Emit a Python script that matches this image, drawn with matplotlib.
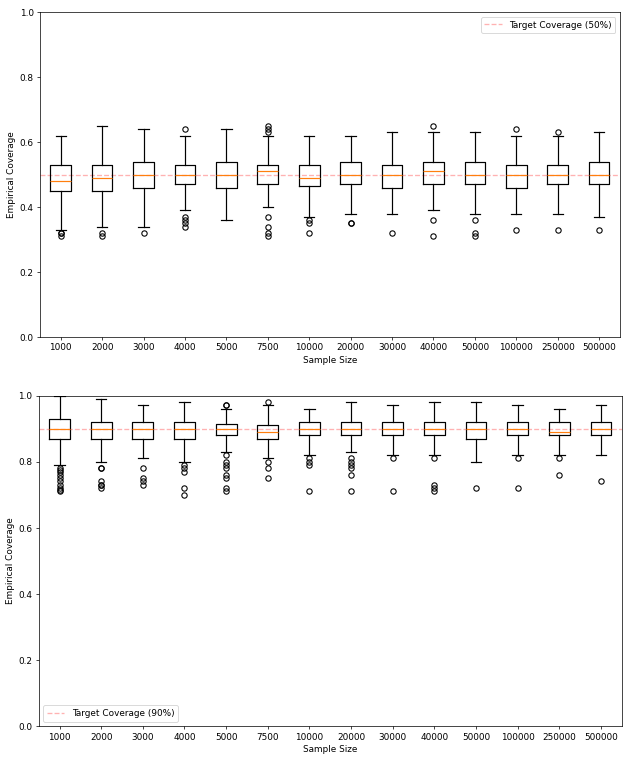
import matplotlib
matplotlib.use("Agg")
import matplotlib.pyplot as plt

sample_sizes = ["1000", "2000", "3000", "4000", "5000", "7500", "10000",
                "20000", "30000", "40000", "50000", "100000", "250000", "500000"]

# 50% panel: whisker low, q1, median, q3, whisker high, outliers
cov50_whislo = [0.33, 0.34, 0.34, 0.39, 0.36, 0.40, 0.37, 0.38, 0.38, 0.39, 0.38, 0.38, 0.38, 0.37]
cov50_q1 = [0.45, 0.45, 0.46, 0.47, 0.46, 0.47, 0.465, 0.47, 0.46, 0.47, 0.47, 0.46, 0.47, 0.47]
cov50_med = [0.48, 0.49, 0.50, 0.50, 0.50, 0.51, 0.49, 0.50, 0.50, 0.51, 0.50, 0.50, 0.50, 0.50]
cov50_q3 = [0.53, 0.53, 0.54, 0.53, 0.54, 0.53, 0.53, 0.54, 0.53, 0.54, 0.54, 0.53, 0.53, 0.54]
cov50_whishi = [0.62, 0.65, 0.64, 0.62, 0.64, 0.62, 0.62, 0.62, 0.63, 0.63, 0.63, 0.62, 0.62, 0.63]
cov50_fliers = [
    [0.32, 0.31, 0.32],
    [0.32, 0.31],
    [0.32],
    [0.64, 0.37, 0.36, 0.35, 0.34],
    [],
    [0.65, 0.64, 0.63, 0.37, 0.34, 0.32, 0.31],
    [0.36, 0.35, 0.32],
    [0.35, 0.35],
    [0.32],
    [0.65, 0.36, 0.31],
    [0.36, 0.32, 0.31],
    [0.64, 0.33],
    [0.63, 0.33],
    [0.33],
]

# 90% panel
cov90_whislo = [0.79, 0.80, 0.81, 0.80, 0.83, 0.81, 0.82, 0.83, 0.82, 0.82, 0.80, 0.82, 0.82, 0.82]
cov90_q1 = [0.87, 0.87, 0.87, 0.87, 0.88, 0.87, 0.88, 0.88, 0.88, 0.88, 0.87, 0.88, 0.88, 0.88]
cov90_med = [0.90, 0.90, 0.90, 0.90, 0.90, 0.89, 0.90, 0.90, 0.90, 0.90, 0.90, 0.90, 0.89, 0.90]
cov90_q3 = [0.93, 0.92, 0.92, 0.92, 0.915, 0.91, 0.92, 0.92, 0.92, 0.92, 0.92, 0.92, 0.92, 0.92]
cov90_whishi = [1.00, 0.99, 0.97, 0.98, 0.96, 0.97, 0.96, 0.98, 0.97, 0.98, 0.98, 0.97, 0.96, 0.97]
cov90_fliers = [
    [0.78, 0.775, 0.77, 0.76, 0.75, 0.74, 0.73, 0.72, 0.715, 0.71],
    [0.78, 0.78, 0.74, 0.73, 0.73, 0.72],
    [0.78, 0.75, 0.74, 0.73],
    [0.79, 0.78, 0.77, 0.72, 0.70],
    [0.97, 0.97, 0.82, 0.80, 0.79, 0.78, 0.76, 0.75, 0.72, 0.71],
    [0.98, 0.80, 0.78, 0.75],
    [0.81, 0.80, 0.79, 0.71],
    [0.81, 0.80, 0.79, 0.78, 0.76, 0.71],
    [0.81, 0.71],
    [0.81, 0.73, 0.72, 0.71],
    [0.72],
    [0.81, 0.72],
    [0.81, 0.76],
    [0.74],
]


def make_stats(lo, q1, med, q3, hi, fl):
    stats = []
    for i in range(len(lo)):
        stats.append({"whislo": lo[i], "q1": q1[i], "med": med[i], "q3": q3[i],
                      "whishi": hi[i], "fliers": fl[i], "label": sample_sizes[i]})
    return stats


lw = 1.35
box_kw = dict(boxprops=dict(linewidth=lw), whiskerprops=dict(linewidth=lw),
              capprops=dict(linewidth=lw), medianprops=dict(linewidth=lw, color="C1"),
              flierprops=dict(marker="o", markersize=6, markeredgewidth=lw * 0.9,
                              markerfacecolor="none", markeredgecolor="black"))

DPI = 64
fig = plt.figure(figsize=(631.3 / DPI, 763.3 / DPI), dpi=DPI)
ax1 = fig.add_axes([0.0634, 0.5583, 0.9184, 0.4251])
ax2 = fig.add_axes([0.0613, 0.0485, 0.9236, 0.4329])

ax1.axhline(0.5, color="r", linestyle="--", alpha=0.3, zorder=1, label="Target Coverage (50%)")
ax1.bxp(make_stats(cov50_whislo, cov50_q1, cov50_med, cov50_q3, cov50_whishi, cov50_fliers), **box_kw)
ax1.set_ylim(0, 1)
ax1.set_xlabel("Sample Size")
ax1.set_ylabel("Empirical Coverage")
ax1.legend(loc="upper right")

ax2.axhline(0.9, color="r", linestyle="--", alpha=0.3, zorder=1, label="Target Coverage (90%)")
ax2.bxp(make_stats(cov90_whislo, cov90_q1, cov90_med, cov90_q3, cov90_whishi, cov90_fliers), **box_kw)
ax2.set_ylim(0, 1)
ax2.set_xlabel("Sample Size")
ax2.set_ylabel("Empirical Coverage")
ax2.legend(loc="lower left")

fig.savefig("out.png", dpi=DPI)
